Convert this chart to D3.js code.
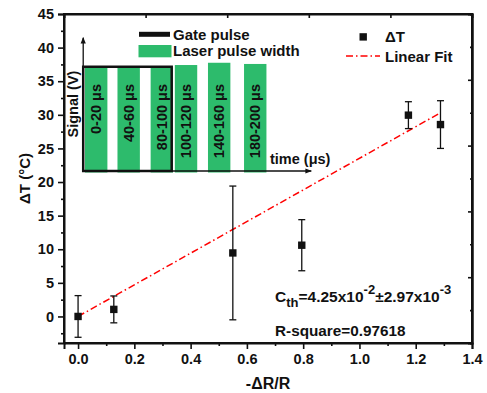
<!DOCTYPE html>
<html>
<head>
<meta charset="utf-8">
<script src="https://cdn.jsdelivr.net/npm/d3@7"></script>
<style>
  body { margin: 0; background: #fff; }
  text { font-family: "Liberation Sans", Arial, sans-serif; font-weight: bold; fill: #111; }
</style>
</head>
<body>
<svg id="chart" width="487" height="393"></svg>
<script>
// measured data: -dR/R vs dT
var ratio = [0.0, 0.127, 0.55, 0.795, 1.174, 1.288];
var deltaT = [0.0, 1.05, 9.45, 10.6, 29.95, 28.55];
var deltaErr = [3.1, 2.0, 9.95, 3.8, 2.0, 3.55];

// linear fit through origin, slope = 1 / Cth
var fitX = [0.0, 1.288];
var fitSlope = 1 / 0.0425;

var xTicks = [0.0, 0.2, 0.4, 0.6, 0.8, 1.0, 1.2, 1.4];
var yTicks = [0, 5, 10, 15, 20, 25, 30, 35, 40, 45];

// inset schematic: laser pulse windows (positions in bar-width units)
var pulseLabels = ["0-20 μs", "40-60 μs", "80-100 μs", "100-120 μs", "140-160 μs", "180-200 μs"];
var pulseStart = [0, 1.45, 2.93, 4.01, 5.49, 7.1];
var pulseLevel = [0.782, 0.782, 0.782, 0.795, 0.812, 0.803];
var gateWindow = [-0.08, 3.87];
var gateLevel = 0.782;

var margin = {top: 14, right: 15, bottom: 50, left: 64},
    width = 487 - margin.left - margin.right,
    height = 393 - margin.top - margin.bottom;

var svg = d3.select("#chart")
  .append("g")
    .attr("transform", "translate(" + margin.left + "," + margin.top + ")");

var x = d3.scaleLinear().domain([-0.05, 1.4]).range([0, width]);
var y = d3.scaleLinear().domain([-3.95, 45]).range([height, 0]);

// bottom axis, outward ticks
var xMinor = d3.range(0.1, 1.4, 0.2);
svg.append("g")
    .attr("transform", "translate(0," + height + ")")
    .call(d3.axisBottom(x).tickValues(xMinor).tickSize(3).tickFormat(""))
    .call(function(g) { g.select(".domain").remove(); });
svg.append("g")
    .attr("class", "xaxis")
    .attr("transform", "translate(0," + height + ")")
    .call(d3.axisBottom(x).tickValues(xTicks).tickSize(6).tickPadding(5).tickFormat(d3.format(".1f")));

// left axis
var yMinor = d3.range(-2.5, 45, 5);
svg.append("g")
    .call(d3.axisLeft(y).tickValues(yMinor).tickSize(3).tickFormat(""))
    .call(function(g) { g.select(".domain").remove(); });
svg.append("g")
    .attr("class", "yaxis")
    .call(d3.axisLeft(y).tickValues(yTicks).tickSize(6).tickPadding(4));

// top and right axes: 10 divisions, inward ticks
var div = d3.scaleLinear().domain([0, 10]).range([0, width]);
var divY = d3.scaleLinear().domain([0, 10]).range([0, height]);
svg.append("g")
    .call(d3.axisTop(div).tickValues([1, 3, 5, 7, 9]).tickSize(-2).tickFormat(""))
    .call(d3.axisTop(div).tickValues([2, 4, 6, 8]).tickSize(-4).tickFormat(""));
svg.append("g")
    .attr("transform", "translate(" + width + ",0)")
    .call(function(g) {
      g.append("g").call(d3.axisRight(divY).tickValues([1, 3, 5, 7, 9]).tickSize(-2).tickFormat(""));
      g.append("g").call(d3.axisRight(divY).tickValues([2, 4, 6, 8]).tickSize(-4).tickFormat(""));
    });

svg.append("rect")
    .attr("width", width)
    .attr("height", height)
    .attr("fill", "none")
    .attr("stroke", "#111")
    .attr("stroke-width", 2);

svg.selectAll(".domain").attr("stroke-width", 2).attr("stroke", "#111");
svg.selectAll(".tick line").attr("stroke-width", 1.6).attr("stroke", "#111");
svg.selectAll(".xaxis .tick text, .yaxis .tick text")
    .style("font-size", "14.5px")
    .style("font-family", "Liberation Sans, Arial, sans-serif")
    .style("font-weight", "bold")
    .attr("fill", "#111");

// axis titles
svg.append("text")
    .attr("transform", "translate(" + (width / 2) + "," + (height + 46) + ")")
    .style("text-anchor", "middle")
    .style("font-size", "16px")
    .text("-ΔR/R");

svg.append("text")
    .attr("transform", "rotate(-90)")
    .attr("x", -height / 2)
    .attr("y", -34)
    .style("text-anchor", "middle")
    .style("font-size", "15px")
    .text("ΔT (°C)");

// inset
var ix = d3.scaleLinear().domain([0, 1]).range([21, 43.4]);
var iy = d3.scaleLinear().domain([0, 1]).range([157, 23.7]);
var bw = ix(1) - ix(0);

var inset = svg.append("g");

inset.selectAll(".pulse")
    .data(pulseLabels)
  .enter().append("rect")
    .attr("class", "pulse")
    .attr("x", function(d, i) { return ix(pulseStart[i]); })
    .attr("y", function(d, i) { return iy(pulseLevel[i]); })
    .attr("width", bw)
    .attr("height", function(d, i) { return iy(0) + 1.5 - iy(pulseLevel[i]); })
    .attr("fill", "#2dbb6c");

inset.selectAll(".plabel")
    .data(pulseLabels)
  .enter().append("text")
    .attr("class", "plabel")
    .attr("transform", function(d, i) {
      return "translate(" + (ix(pulseStart[i]) + bw / 2 + 5) + "," + 70 + ") rotate(-90)";
    })
    .style("text-anchor", "end")
    .style("font-size", "14.5px")
    .text(function(d) { return d; });

inset.append("rect")
    .attr("x", ix(gateWindow[0]))
    .attr("y", iy(gateLevel))
    .attr("width", ix(gateWindow[1]) - ix(gateWindow[0]))
    .attr("height", iy(0) - iy(gateLevel))
    .attr("fill", "none")
    .attr("stroke", "#111")
    .attr("stroke-width", 2.5);

svg.append("defs").append("marker")
    .attr("id", "arrow")
    .attr("viewBox", "0 0 10 10")
    .attr("refX", 9).attr("refY", 5)
    .attr("markerWidth", 5).attr("markerHeight", 5)
    .attr("orient", "auto")
  .append("path")
    .attr("d", "M0,1L10,5L0,9z")
    .attr("fill", "#111");

inset.append("line")
    .attr("x1", ix(gateWindow[0])).attr("y1", iy(0))
    .attr("x2", ix(gateWindow[0])).attr("y2", iy(1))
    .attr("stroke", "#111").attr("stroke-width", 1.3)
    .attr("marker-end", "url(#arrow)");

inset.append("line")
    .attr("x1", ix(gateWindow[0])).attr("y1", iy(0))
    .attr("x2", ix(10.1)).attr("y2", iy(0))
    .attr("stroke", "#111").attr("stroke-width", 1.3)
    .attr("marker-end", "url(#arrow)");

inset.append("text")
    .attr("transform", "translate(" + (ix(gateWindow[0]) - 5.5) + "," + 90 + ") rotate(-90)")
    .style("text-anchor", "middle")
    .style("font-size", "14.5px")
    .text("Signal (V)");

inset.append("text")
    .attr("x", 206)
    .attr("y", 149.5)
    .style("font-size", "14.5px")
    .text("time (μs)");

// inset legend
inset.append("line")
    .attr("x1", 75).attr("x2", 106)
    .attr("y1", 20.3).attr("y2", 20.3)
    .attr("stroke", "#111").attr("stroke-width", 5);
inset.append("text").attr("x", 109).attr("y", 25.5)
    .style("font-size", "15px").text("Gate pulse");
inset.append("rect")
    .attr("x", 74.5).attr("y", 31)
    .attr("width", 33).attr("height", 12.3)
    .attr("fill", "#2dbb6c");
inset.append("text").attr("x", 109).attr("y", 42)
    .style("font-size", "15px").text("Laser pulse width");

// linear fit
var fitLine = d3.line()
    .x(function(d) { return x(d); })
    .y(function(d) { return y(d * fitSlope); });

svg.append("path")
    .datum(fitX)
    .attr("d", fitLine)
    .attr("fill", "none")
    .attr("stroke", "#ff0000")
    .attr("stroke-width", 1.5)
    .attr("stroke-dasharray", "7,3,1.5,3");

// error bars and points
var pts = svg.selectAll(".pt")
    .data(ratio)
  .enter().append("g")
    .attr("class", "pt");

pts.append("line")
    .attr("x1", function(d) { return x(d); })
    .attr("x2", function(d) { return x(d); })
    .attr("y1", function(d, i) { return y(deltaT[i] - deltaErr[i]); })
    .attr("y2", function(d, i) { return y(deltaT[i] + deltaErr[i]); })
    .attr("stroke", "#111").attr("stroke-width", 1.3);

[-1, 1].forEach(function(s) {
  pts.append("line")
      .attr("x1", function(d) { return x(d) - 3.5; })
      .attr("x2", function(d) { return x(d) + 3.5; })
      .attr("y1", function(d, i) { return y(deltaT[i] + s * deltaErr[i]); })
      .attr("y2", function(d, i) { return y(deltaT[i] + s * deltaErr[i]); })
      .attr("stroke", "#111").attr("stroke-width", 1.3);
});

pts.append("rect")
    .attr("x", function(d) { return x(d) - 3.7; })
    .attr("y", function(d, i) { return y(deltaT[i]) - 3.7; })
    .attr("width", 7.4)
    .attr("height", 7.4)
    .attr("fill", "#111");

// legend
svg.append("rect")
    .attr("x", 295.5).attr("y", 19.2)
    .attr("width", 7.4).attr("height", 7.4)
    .attr("fill", "#111");
svg.append("text").attr("x", 321).attr("y", 28)
    .style("font-size", "15px").text("ΔT");
svg.append("line")
    .attr("x1", 282).attr("x2", 316)
    .attr("y1", 42).attr("y2", 42)
    .attr("stroke", "#ff0000").attr("stroke-width", 1.5)
    .attr("stroke-dasharray", "7,3,1.5,3");
svg.append("text").attr("x", 321).attr("y", 48)
    .style("font-size", "15px").text("Linear Fit");

// annotations
var cth = svg.append("text")
    .attr("x", 211)
    .attr("y", 287.7)
    .style("font-size", "15.5px");
cth.append("tspan").text("C");
cth.append("tspan").attr("dy", 5).style("font-size", "13px").text("th");
cth.append("tspan").attr("dy", -5).text("=4.25x10");
cth.append("tspan").attr("dy", -8).style("font-size", "13px").text("-2");
cth.append("tspan").attr("dy", 8).text("±2.97x10");
cth.append("tspan").attr("dy", -8).style("font-size", "13px").text("-3");

svg.append("text")
    .attr("x", 211)
    .attr("y", 322)
    .style("font-size", "15.3px")
    .text("R-square=0.97618");
</script>
</body>
</html>
